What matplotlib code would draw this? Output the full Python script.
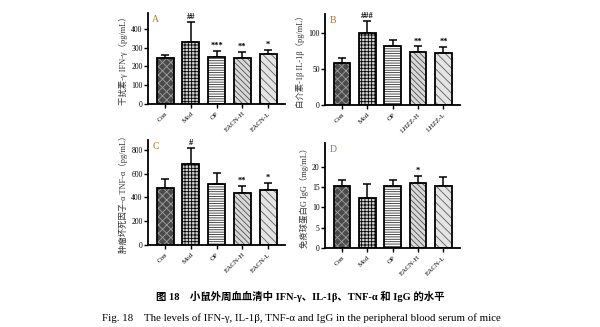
import numpy as np
import matplotlib
matplotlib.use("Agg")
import matplotlib.pyplot as plt

plt.rcParams['font.family'] = ['Liberation Serif', 'Noto Sans CJK SC', 'DejaVu Sans']
plt.rcParams['hatch.linewidth'] = 0.6

groups_ab = ["Con", "Mod", "OP", "EACN-H", "EACN-L"]
groups_b = ["Con", "Mod", "OP", "LHZZ-H", "LHZZ-L"]

ifn_mean = [246, 332, 250, 243, 265]
ifn_err = [261, 439, 283, 279, 288]
ifn_sig = ["", "##", "***", "**", "*"]

il1b_mean = [59, 100, 82, 74, 73]
il1b_err = [66, 117, 91, 82, 81]
il1b_sig = ["", "###", "", "**", "**"]

tnf_mean = [477, 680, 514, 437, 465]
tnf_err = [556, 818, 609, 500, 522]
tnf_sig = ["", "#", "", "**", "*"]

igg_mean = [15.4, 12.3, 15.3, 16.1, 15.3]
igg_err = [16.8, 15.8, 16.8, 17.8, 17.5]
igg_sig = ["", "", "", "*", ""]

# fill, hatch, hatch colour per group
styles = [("#4a4a4a", "xxxx", "#a0a0a0"),
          ("#d0d0d0", "+++++", "black"),
          ("white", "-------", "#333333"),
          ("#d8d8d8", "\\\\\\\\\\\\", "#505050"),
          ("#e4e4e4", "\\\\\\\\", "#606060")]


def panel(ax, labels, mean, err, sig, ylim, yticks, ylabel, letter):
    x = np.arange(len(labels))
    mean = np.array(mean)
    err = np.array(err)
    for i in range(len(x)):
        fc, h, hc = styles[i]
        ax.bar(x[i], mean[i], width=0.66, color=fc, hatch=h, edgecolor=hc, linewidth=0, zorder=2)
        ax.bar(x[i], mean[i], width=0.66, fill=False, edgecolor="black", linewidth=1.3, zorder=3)
    ax.errorbar(x, mean, yerr=[np.zeros(len(x)), err - mean], fmt="none", ecolor="black",
                elinewidth=1.1, capsize=3, capthick=1.1, zorder=1)
    for i in range(len(x)):
        if sig[i]:
            ax.text(x[i], err[i] + ylim * 0.01, sig[i], ha="center", va="bottom", fontsize=6,
                    fontweight="bold")
    ax.set_xlim(-0.66, 4.66)
    ax.set_ylim(0, ylim)
    ax.set_yticks(yticks)
    ax.set_xticks(x)
    ax.set_xticklabels(labels, rotation=45, ha="right", rotation_mode="anchor", fontsize=5)
    ax.tick_params(axis="y", labelsize=5.5, length=3, width=1, pad=1)
    ax.tick_params(axis="x", length=3, width=1, pad=2)
    for s in ["top", "right"]:
        ax.spines[s].set_visible(False)
    for s in ["left", "bottom"]:
        ax.spines[s].set_linewidth(1.3)
    ax.set_ylabel(ylabel, fontsize=6, labelpad=2, color="#333333")
    ax.text(0.03, 0.98, letter, transform=ax.transAxes, fontsize=7, color="#b8741a",
            ha="left", va="top")


fig = plt.figure(figsize=(6, 3.27), dpi=100)
axA = fig.add_axes([0.247, 0.682, 0.228, 0.278])
axB = fig.add_axes([0.542, 0.679, 0.225, 0.278])
axC = fig.add_axes([0.247, 0.251, 0.228, 0.321])
axD = fig.add_axes([0.542, 0.242, 0.225, 0.321])

panel(axA, groups_ab, ifn_mean, ifn_err, ifn_sig, 485, [0, 100, 200, 300, 400],
      "干扰素-γ IFN-γ（pg/mL）", "A")
panel(axB, groups_b, il1b_mean, il1b_err, il1b_sig, 127, [0, 50, 100],
      "白介素-1β IL-1β（pg/mL）", "B")
panel(axC, groups_ab, tnf_mean, tnf_err, tnf_sig, 885, [0, 200, 400, 600, 800],
      "肿瘤坏死因子-α TNF-α（pg/mL）", "C")
panel(axD, groups_ab, igg_mean, igg_err, igg_sig, 26, [0, 5, 10, 15, 20],
      "免疫球蛋白G IgG（mg/mL）", "D")

fig.text(0.5, 1 - 297 / 327, "图 18    小鼠外周血血清中 IFN-γ、IL-1β、TNF-α 和 IgG 的水平",
         ha="center", va="center", fontsize=7.5, fontweight="bold")
fig.text(0.502, 1 - 318 / 327,
         "Fig. 18    The levels of IFN-γ, IL-1β, TNF-α and IgG in the peripheral blood serum of mice",
         ha="center", va="center", fontsize=7.8)

fig.savefig("out.png", dpi=100)
